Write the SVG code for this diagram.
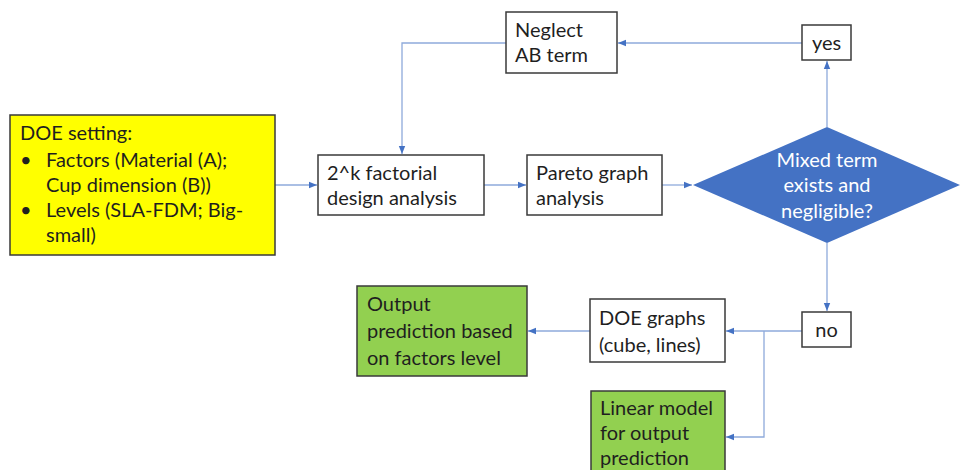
<svg xmlns="http://www.w3.org/2000/svg" width="960" height="470" viewBox="0 0 960 470">
  <style>
    .box { stroke: #3a3a3a; stroke-width: 1.5; }
    .plain { fill: #ffffff; }
    .green { fill: #92d050; }
    .yellow { fill: #ffff00; }
    .t { font-family: Lato, "Liberation Sans", sans-serif; font-size: 20px; fill: #1f1f1f; }
    .w { fill: #ffffff; }
    .link { fill: none; stroke: #8eaadb; stroke-width: 1.3; }
  </style>
  <defs>
    <marker id="arr" viewBox="0 0 10 10" refX="10" refY="5" markerWidth="8" markerHeight="8" markerUnits="userSpaceOnUse" orient="auto">
      <path d="M0,1 L10,5 L0,9 z" fill="#4472c4"/>
    </marker>
  </defs>
  <rect width="960" height="470" fill="#ffffff"/>

  <g id="connectors">
    <path class="link" d="M275,185 H317" marker-end="url(#arr)"/>
    <path class="link" d="M484,185 H526" marker-end="url(#arr)"/>
    <path class="link" d="M662,185 H692" marker-end="url(#arr)"/>
    <path class="link" d="M827,127 V61" marker-end="url(#arr)"/>
    <path class="link" d="M802,43 H618" marker-end="url(#arr)"/>
    <path class="link" d="M506,43 H402 V154" marker-end="url(#arr)"/>
    <path class="link" d="M827,243 V311" marker-end="url(#arr)"/>
    <path class="link" d="M802,331 H726" marker-end="url(#arr)"/>
    <path class="link" d="M764,331 V437 H726" marker-end="url(#arr)"/>
    <path class="link" d="M590,331 H528" marker-end="url(#arr)"/>
  </g>

  <g id="doe-setting">
    <rect class="box yellow" x="10" y="115" width="265" height="140"/>
    <text class="t" x="20" y="140">DOE setting:</text>
    <text class="t" x="20" y="167">•</text>
    <text class="t" x="46" y="167">Factors (Material (A);</text>
    <text class="t" x="46" y="192">Cup dimension (B))</text>
    <text class="t" x="20" y="217">•</text>
    <text class="t" x="46" y="217">Levels (SLA-FDM; Big-</text>
    <text class="t" x="46" y="242">small)</text>
  </g>

  <g id="factorial">
    <rect class="box plain" x="318" y="155" width="166" height="60"/>
    <text class="t" x="327" y="180">2^k factorial</text>
    <text class="t" x="327" y="205">design analysis</text>
  </g>

  <g id="pareto">
    <rect class="box plain" x="527" y="155" width="135" height="60"/>
    <text class="t" x="536" y="180">Pareto graph</text>
    <text class="t" x="536" y="205">analysis</text>
  </g>

  <g id="neglect">
    <rect class="box plain" x="506" y="12" width="111" height="61"/>
    <text class="t" x="515" y="37">Neglect</text>
    <text class="t" x="515" y="62">AB term</text>
  </g>

  <g id="yes">
    <rect class="box plain" x="802" y="25" width="49" height="35"/>
    <text class="t" x="826.5" y="50" text-anchor="middle">yes</text>
  </g>

  <g id="decision">
    <polygon points="693,185 827,127 960,185 827,243" fill="#4472c4"/>
    <text class="t w" x="827" y="167" text-anchor="middle">Mixed term</text>
    <text class="t w" x="827" y="192" text-anchor="middle">exists and</text>
    <text class="t w" x="827" y="218" text-anchor="middle">negligible?</text>
  </g>

  <g id="no">
    <rect class="box plain" x="802" y="312" width="49" height="35"/>
    <text class="t" x="826.5" y="337" text-anchor="middle">no</text>
  </g>

  <g id="doe-graphs">
    <rect class="box plain" x="590" y="299" width="135" height="63"/>
    <text class="t" x="599" y="325">DOE graphs</text>
    <text class="t" x="599" y="352">(cube, lines)</text>
  </g>

  <g id="output-prediction">
    <rect class="box green" x="357" y="286" width="170" height="90"/>
    <text class="t" x="367" y="311">Output</text>
    <text class="t" x="367" y="338">prediction based</text>
    <text class="t" x="367" y="365">on factors level</text>
  </g>

  <g id="linear-model">
    <rect class="box green" x="591" y="391" width="134" height="90"/>
    <text class="t" x="600" y="415">Linear model</text>
    <text class="t" x="600" y="440">for output</text>
    <text class="t" x="600" y="465">prediction</text>
  </g>
</svg>
